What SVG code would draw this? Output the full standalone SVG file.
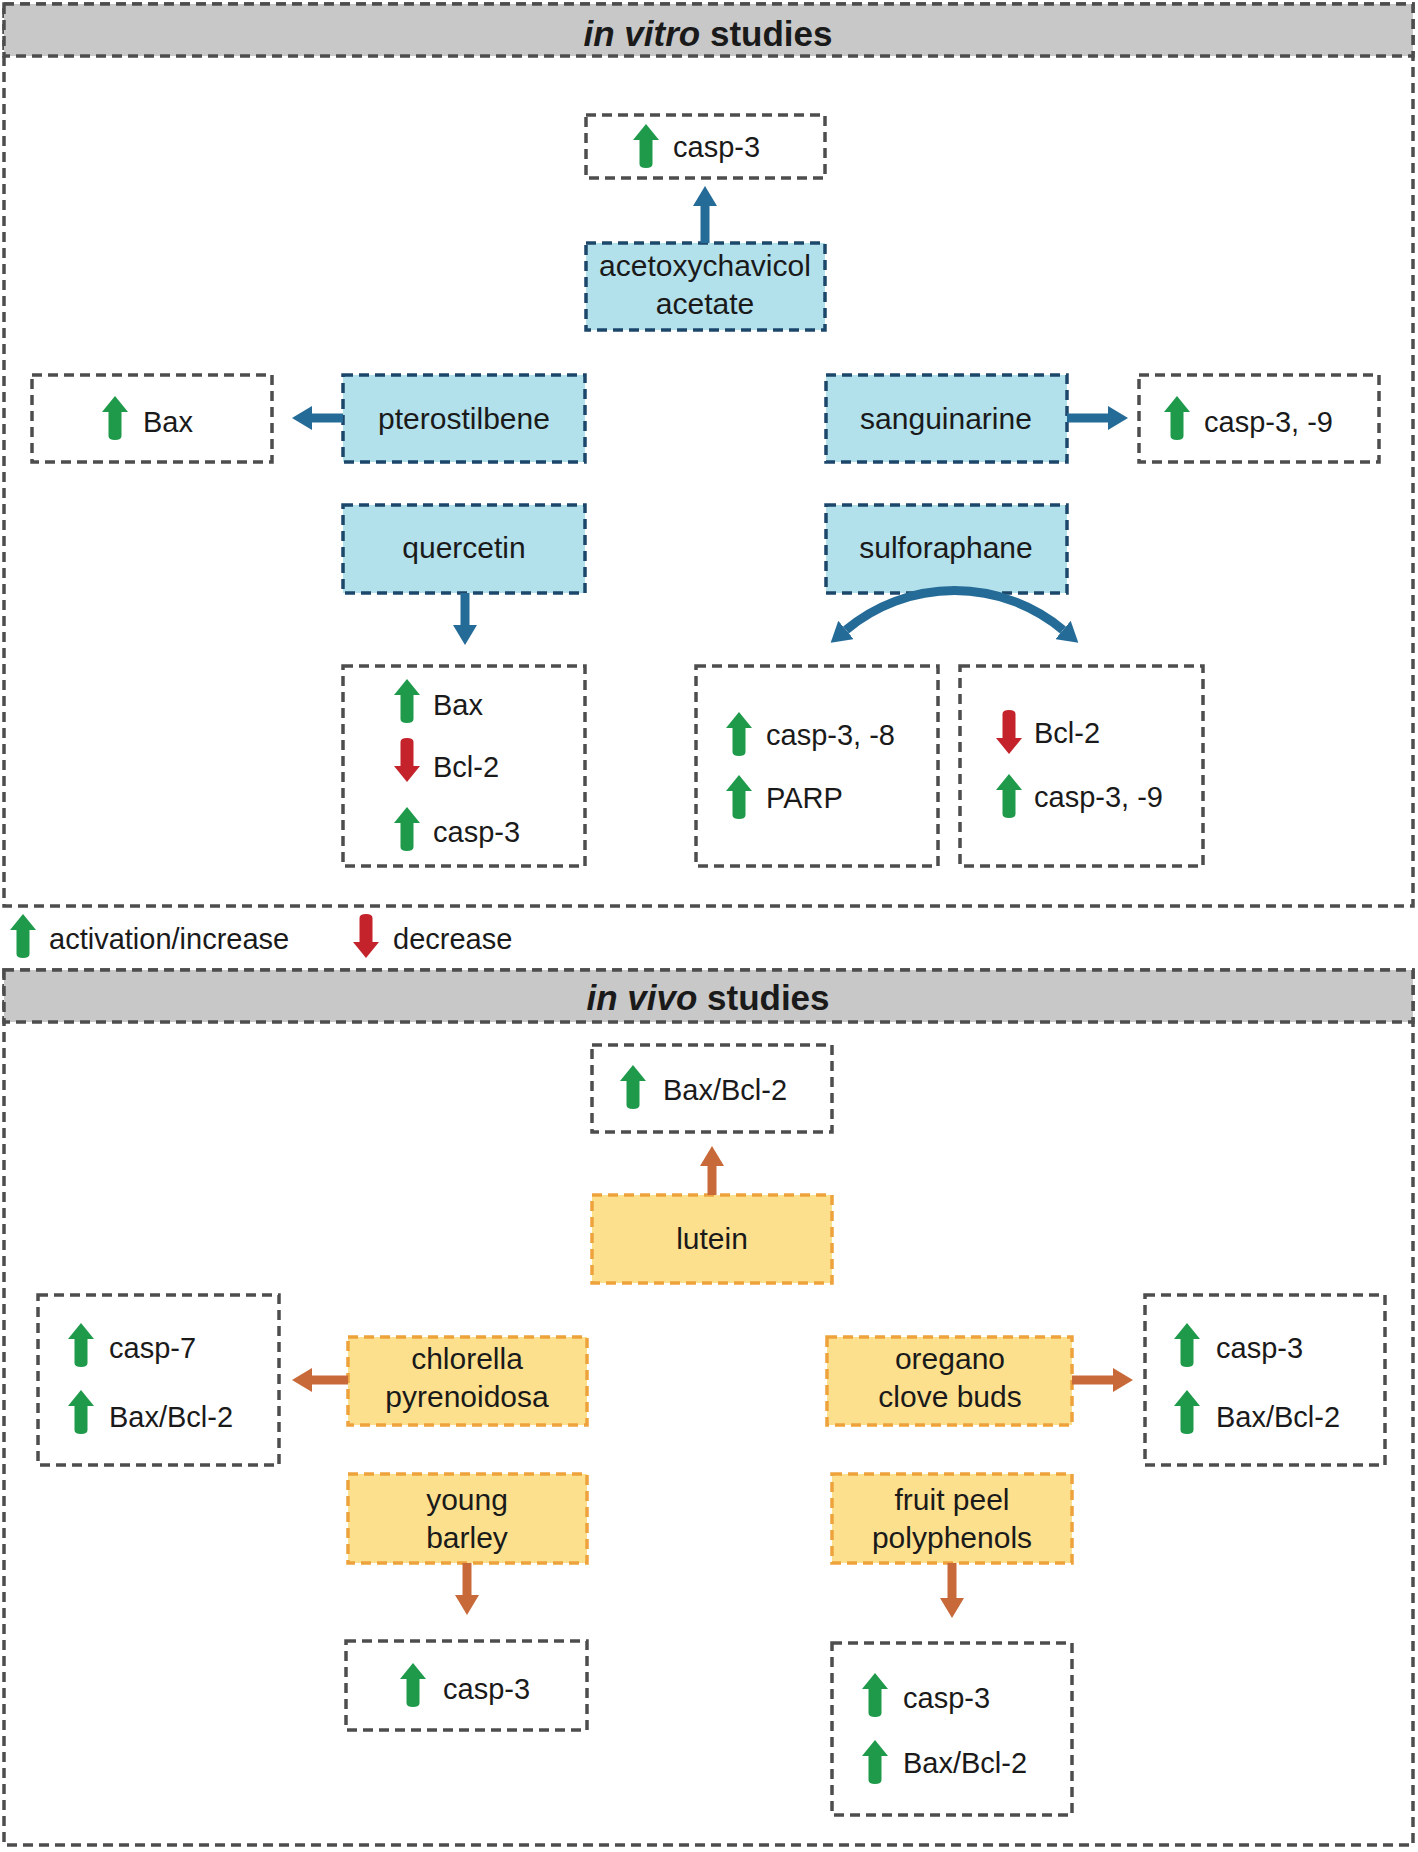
<svg xmlns="http://www.w3.org/2000/svg" xmlns:xlink="http://www.w3.org/1999/xlink" width="1418" height="1852" viewBox="0 0 1418 1852">
<style>
text{font-family:"Liberation Sans",Arial,sans-serif;fill:#1a1a1a}
.hd{font-size:35px;font-weight:bold;text-anchor:middle}
.lb{font-size:30px;text-anchor:middle}
.it{font-size:29px}
.outer{fill:none;stroke:#4d4d4d;stroke-width:3.5;stroke-dasharray:10 6}
.head{fill:#c8c8c8;stroke:#4d4d4d;stroke-width:3.5;stroke-dasharray:10 6}
.box{fill:#fff;stroke:#4d4d4d;stroke-width:3.5;stroke-dasharray:10 6}
.bn{fill:#b2e0eb;stroke:#1c476b;stroke-width:3.5;stroke-dasharray:10 6}
.yn{fill:#fde08e;stroke:#eea23c;stroke-width:3.5;stroke-dasharray:10 6}
.cb{fill:none;stroke:#246b97;stroke-width:9}
.co{fill:none;stroke:#c8693a;stroke-width:9}
.g{fill:#1f9a4b}
.r{fill:#c4232b}
</style>
<defs>
<marker id="mb" markerUnits="userSpaceOnUse" markerWidth="20" markerHeight="24" viewBox="0 0 20 24" refX="0" refY="12" orient="auto-start-reverse"><path d="M0,0 L20,12 L0,24 Z" fill="#246b97"/></marker>
<marker id="mo" markerUnits="userSpaceOnUse" markerWidth="20" markerHeight="24" viewBox="0 0 20 24" refX="0" refY="12" orient="auto-start-reverse"><path d="M0,0 L20,12 L0,24 Z" fill="#c8693a"/></marker>
<path id="up" d="M0,0 L13,16 L6.5,16 L6.5,40 Q6.5,44 0,44 Q-6.5,44 -6.5,40 L-6.5,16 L-13,16 Z"/>
<path id="dn" d="M0,44 L13,28 L6.5,28 L6.5,4 Q6.5,0 0,0 Q-6.5,0 -6.5,4 L-6.5,28 L-13,28 Z"/>
</defs>
<rect width="1418" height="1852" fill="#fff"/>

<!-- in vitro section -->
<g id="invitro-frame">
<rect class="outer" x="4" y="4" width="1409" height="902"/>
<rect class="head" x="4" y="4" width="1409" height="52"/>
<text class="hd" x="708" y="46"><tspan font-style="italic">in vitro</tspan> studies</text>
</g>

<g id="v-casp3-top"><rect class="box" x="586" y="115" width="239" height="63"/><use href="#up" class="g" x="646" y="124"/><text class="it" x="673" y="157">casp-3</text></g>
<g id="acetoxychavicol"><rect class="bn" x="586" y="243" width="239" height="87"/><text class="lb" x="705" y="276">acetoxychavicol</text><text class="lb" x="705" y="314">acetate</text></g>
<g id="v-bax-left"><rect class="box" x="32" y="375" width="240" height="87"/><use href="#up" class="g" x="115" y="396"/><text class="it" x="143" y="432">Bax</text></g>
<g id="pterostilbene"><rect class="bn" x="343" y="375" width="242" height="87"/><text class="lb" x="464" y="429">pterostilbene</text></g>
<g id="sanguinarine"><rect class="bn" x="826" y="375" width="241" height="87"/><text class="lb" x="946" y="429">sanguinarine</text></g>
<g id="v-casp39-right"><rect class="box" x="1139" y="375" width="240" height="87"/><use href="#up" class="g" x="1177" y="396"/><text class="it" x="1204" y="432">casp-3, -9</text></g>
<g id="quercetin"><rect class="bn" x="343" y="505" width="242" height="88"/><text class="lb" x="464" y="558">quercetin</text></g>
<g id="sulforaphane"><rect class="bn" x="826" y="505" width="241" height="88"/><text class="lb" x="946" y="558">sulforaphane</text></g>
<g id="v-quercetin-effects"><rect class="box" x="343" y="666" width="242" height="200"/>
<use href="#up" class="g" x="407" y="679"/><text class="it" x="433" y="715">Bax</text>
<use href="#dn" class="r" x="407" y="738"/><text class="it" x="433" y="777">Bcl-2</text>
<use href="#up" class="g" x="407" y="807"/><text class="it" x="433" y="842">casp-3</text></g>
<g id="v-casp38-parp"><rect class="box" x="696" y="666" width="242" height="200"/>
<use href="#up" class="g" x="739" y="712"/><text class="it" x="766" y="745">casp-3, -8</text>
<use href="#up" class="g" x="739" y="775"/><text class="it" x="766" y="808">PARP</text></g>
<g id="v-bcl2-casp39"><rect class="box" x="960" y="666" width="243" height="200"/>
<use href="#dn" class="r" x="1009" y="710"/><text class="it" x="1034" y="743">Bcl-2</text>
<use href="#up" class="g" x="1009" y="774"/><text class="it" x="1034" y="807">casp-3, -9</text></g>

<!-- legend -->
<g id="legend">
<use href="#up" class="g" x="23" y="914"/><text class="it" x="49" y="949">activation/increase</text>
<use href="#dn" class="r" x="366" y="914"/><text class="it" x="393" y="949">decrease</text>
</g>

<!-- in vivo section -->
<g id="invivo-frame">
<rect class="outer" x="4" y="970" width="1409" height="875"/>
<rect class="head" x="4" y="970" width="1409" height="52"/>
<text class="hd" x="708" y="1010"><tspan font-style="italic">in vivo</tspan> studies</text>
</g>

<g id="w-baxbcl2-top"><rect class="box" x="592" y="1045" width="240" height="87"/><use href="#up" class="g" x="633" y="1065"/><text class="it" x="663" y="1100">Bax/Bcl-2</text></g>
<g id="lutein"><rect class="yn" x="592" y="1195" width="240" height="88"/><text class="lb" x="712" y="1249">lutein</text></g>
<g id="w-left"><rect class="box" x="38" y="1295" width="241" height="170"/>
<use href="#up" class="g" x="81" y="1323"/><text class="it" x="109" y="1358">casp-7</text>
<use href="#up" class="g" x="81" y="1390"/><text class="it" x="109" y="1427">Bax/Bcl-2</text></g>
<g id="chlorella"><rect class="yn" x="348" y="1337" width="239" height="88"/><text class="lb" x="467" y="1369">chlorella</text><text class="lb" x="467" y="1407">pyrenoidosa</text></g>
<g id="oregano"><rect class="yn" x="827" y="1337" width="245" height="88"/><text class="lb" x="950" y="1369">oregano</text><text class="lb" x="950" y="1407">clove buds</text></g>
<g id="w-right"><rect class="box" x="1145" y="1295" width="240" height="170"/>
<use href="#up" class="g" x="1187" y="1323"/><text class="it" x="1216" y="1358">casp-3</text>
<use href="#up" class="g" x="1187" y="1390"/><text class="it" x="1216" y="1427">Bax/Bcl-2</text></g>
<g id="young-barley"><rect class="yn" x="348" y="1474" width="239" height="89"/><text class="lb" x="467" y="1510">young</text><text class="lb" x="467" y="1548">barley</text></g>
<g id="fruit-peel"><rect class="yn" x="832" y="1474" width="240" height="89"/><text class="lb" x="952" y="1510">fruit peel</text><text class="lb" x="952" y="1548">polyphenols</text></g>
<g id="w-casp3-bottom"><rect class="box" x="346" y="1641" width="241" height="89"/><use href="#up" class="g" x="413" y="1663"/><text class="it" x="443" y="1699">casp-3</text></g>
<g id="w-bottom-right"><rect class="box" x="832" y="1643" width="240" height="172"/>
<use href="#up" class="g" x="875" y="1673"/><text class="it" x="903" y="1708">casp-3</text>
<use href="#up" class="g" x="875" y="1740"/><text class="it" x="903" y="1773">Bax/Bcl-2</text></g>

<g id="connectors">
<line class="cb" x1="705" y1="243" x2="705" y2="206" marker-end="url(#mb)"/>
<line class="cb" x1="343" y1="418" x2="312" y2="418" marker-end="url(#mb)"/>
<line class="cb" x1="1067" y1="418" x2="1108" y2="418" marker-end="url(#mb)"/>
<line class="cb" x1="465" y1="593" x2="465" y2="625" marker-end="url(#mb)"/>
<path class="cb" d="M846,630 A169,169 0 0 1 1063,630" marker-start="url(#mb)" marker-end="url(#mb)"/>
<line class="co" x1="712" y1="1195" x2="712" y2="1166" marker-end="url(#mo)"/>
<line class="co" x1="348" y1="1380" x2="312" y2="1380" marker-end="url(#mo)"/>
<line class="co" x1="1072" y1="1380" x2="1113" y2="1380" marker-end="url(#mo)"/>
<line class="co" x1="467" y1="1563" x2="467" y2="1595" marker-end="url(#mo)"/>
<line class="co" x1="952" y1="1563" x2="952" y2="1598" marker-end="url(#mo)"/>
</g>
</svg>
